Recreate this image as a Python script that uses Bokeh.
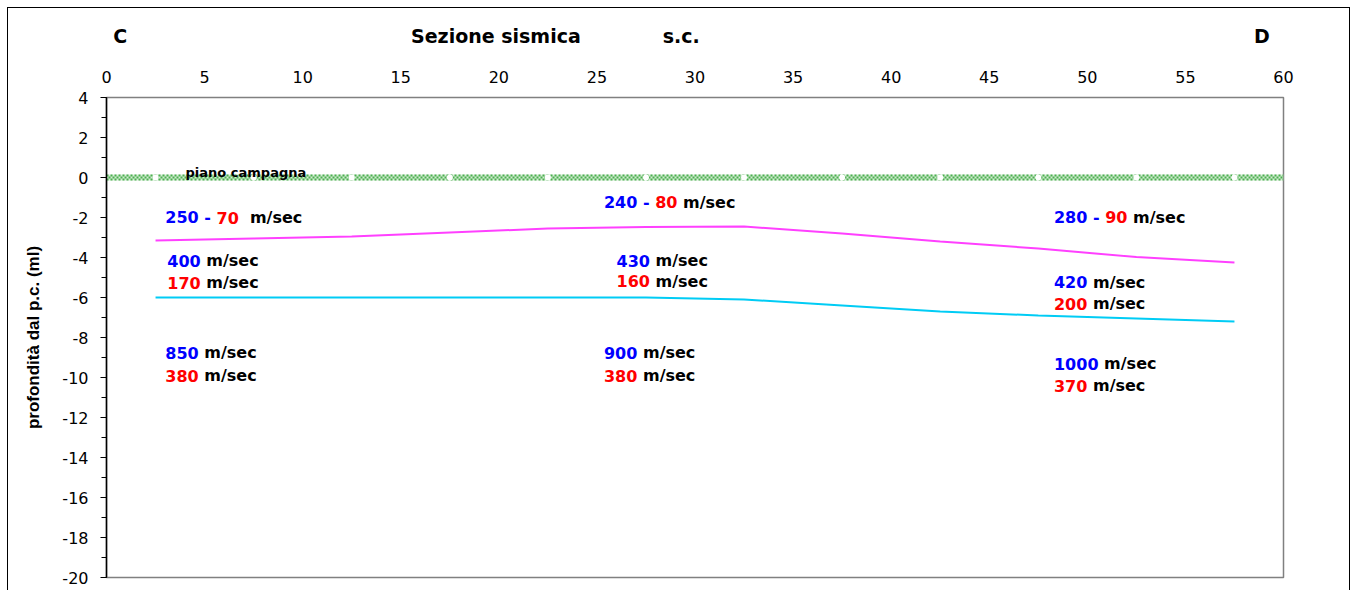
from bokeh.plotting import figure
from bokeh.models import (ColumnDataSource, Range1d, SingleIntervalTicker, FixedTicker,
                          LinearAxis, CustomJSTickFormatter)
from bokeh.embed import file_html
from bokeh.resources import INLINE
from bokeh.core.properties import value

# ---------------- data ----------------
pos_x = [2.5, 7.5, 12.5, 17.5, 22.5, 27.5, 32.5, 37.5, 42.5, 47.5, 52.5, 57.5]
interface1_y = [-3.15, -3.05, -2.95, -2.75, -2.55, -2.48, -2.45, -2.8, -3.2, -3.55, -3.98, -4.25]
interface2_y = [-6.0, -6.0, -6.0, -6.0, -6.0, -6.0, -6.1, -6.4, -6.7, -6.9, -7.05, -7.2]

ground_x = [0, 2.5, 7.5, 12.5, 17.5, 22.5, 27.5, 32.5, 37.5, 42.5, 47.5, 52.5, 57.5, 60]
ground_y = [0] * len(ground_x)

# layer 1 (surface): Vp - Vs
top_vp = ["250", "240", "280"]
top_vs = ["70", "80", "90"]
top_sep = ["  m/sec", " m/sec", " m/sec"]
top_x = [3.0, 25.36, 48.3]
top_y = [-2.0, -1.23, -1.98]

# layer 2
mid_vp = ["400", "430", "420"]
mid_vs = ["170", "160", "200"]
mid_x = [3.1, 26.0, 48.3]
mid_yp = [-4.15, -4.15, -5.23]
mid_ys = [-5.25, -5.18, -6.32]

# layer 3
bot_vp = ["850", "900", "1000"]
bot_vs = ["380", "380", "370"]
bot_x = [3.0, 25.36, 48.3]
bot_yp = [-8.75, -8.75, -9.32]
bot_ys = [-9.9, -9.9, -10.4]

header_text = ["C", "Sezione sismica", "s.c.", "D"]
header_x = [0.7, 19.85, 29.3, 58.9]

# ---------------- helpers ----------------
FS = 16
# DejaVu Sans Bold advance widths (per 1000 em)
W = {"0": 696, "1": 696, "2": 696, "3": 696, "4": 696, "5": 696, "6": 696,
     "7": 696, "8": 696, "9": 696, " ": 348, "-": 415, "m": 1042, "/": 365,
     "s": 595, "e": 678, "c": 593}


def tw(s, size=FS):
    return sum(W.get(ch, 650) for ch in s) / 1000.0 * size


BLUE, RED, BLACK = "#0000FF", "#FF0000", "#000000"

tx, ty, tt, tc, to = [], [], [], [], []


def add_parts(x, y, parts):
    off = 0.0
    for s, col in parts:
        lead = len(s) - len(s.lstrip(" "))
        tx.append(x); ty.append(y); tt.append(s.strip(" ")); tc.append(col)
        to.append(off + tw(" " * lead))
        off += tw(s)


for i in range(3):
    add_parts(top_x[i], top_y[i], [(top_vp[i] + " - ", BLUE), (top_vs[i], RED), (top_sep[i], BLACK)])
    add_parts(mid_x[i], mid_yp[i], [(mid_vp[i], BLUE), (" m/sec", BLACK)])
    add_parts(mid_x[i], mid_ys[i], [(mid_vs[i], RED), (" m/sec", BLACK)])
    add_parts(bot_x[i], bot_yp[i], [(bot_vp[i], BLUE), (" m/sec", BLACK)])
    add_parts(bot_x[i], bot_ys[i], [(bot_vs[i], RED), (" m/sec", BLACK)])

src = ColumnDataSource(dict(x=tx, y=ty, text=tt, color=tc, xoff=to))

# ---------------- figure ----------------
p = figure(width=1343, height=583, output_backend="svg", toolbar_location=None,
           x_range=Range1d(0, 60), y_range=Range1d(-20, 4),
           x_axis_location="above", y_axis_location="left",
           min_border_left=98, min_border_right=68, min_border_top=89, min_border_bottom=14)
p.styles = {"border-top": "1px solid #000", "border-left": "1px solid #000",
            "border-right": "1px solid #000", "margin-left": "7px", "margin-top": "7px"}
p.grid.visible = False
p.outline_line_color = "#808080"
p.outline_line_width = 1.5
p.background_fill_color = "white"
p.border_fill_color = "white"

plain_fmt = CustomJSTickFormatter(code="return String(tick);")

xa = p.xaxis[0]
xa.ticker = SingleIntervalTicker(interval=5)
xa.formatter = plain_fmt
xa.major_tick_line_color = None
xa.minor_tick_line_color = None
xa.axis_line_color = None
xa.major_label_text_font = "DejaVu Sans"
xa.major_label_text_font_size = "16px"
xa.major_label_text_color = "black"
xa.major_label_standoff = 9

# header row as an outer axis above
hdr = LinearAxis(ticker=FixedTicker(ticks=header_x),
                 major_label_overrides={hx: t for hx, t in zip(header_x, header_text)})
hdr.major_tick_line_color = None
hdr.minor_tick_line_color = None
hdr.axis_line_color = None
hdr.major_label_text_font = "DejaVu Sans"
hdr.major_label_text_font_style = "bold"
hdr.major_label_text_font_size = "19px"
hdr.major_label_text_color = "black"
hdr.major_label_standoff = 15
p.add_layout(hdr, "above")

ya = p.yaxis[0]
ya.ticker = SingleIntervalTicker(interval=2, num_minor_ticks=2)
ya.formatter = plain_fmt
ya.axis_line_color = "black"
ya.axis_line_width = 1.5
ya.major_tick_in = 0
ya.major_tick_out = 6
ya.minor_tick_in = 0
ya.minor_tick_out = 5
ya.major_tick_line_color = "black"
ya.minor_tick_line_color = "black"
ya.major_label_text_font = "DejaVu Sans"
ya.major_label_text_font_size = "16px"
ya.major_label_text_color = "black"
ya.major_label_standoff = 12
ya.axis_label = "profondità dal p.c. (ml)"
ya.axis_label_text_font = "Liberation Sans"
ya.axis_label_text_font_size = "17px"
ya.axis_label_text_font_style = "bold"
ya.axis_label_text_color = "black"
ya.axis_label_standoff = 16

# ground surface (checkered green band)
p.line(ground_x, ground_y, line_color="#d2ecd2", line_width=6)
for dy, off in [(0.1, 0), (0.0, 2), (-0.1, 0)]:
    p.line(ground_x, [g + dy for g in ground_y], line_color="#4caf50", line_width=2,
           line_dash="2 2", line_dash_offset=off, line_cap="butt")
p.scatter(ground_x[1:-1], ground_y[1:-1], marker="circle", size=6,
          fill_color="white", line_color=None)
p.text([4.03], [0.25], text=["piano campagna"], text_font=value("DejaVu Sans"),
       text_font_style="bold", text_font_size="13px", text_baseline="middle",
       text_align="left", text_color="black")

# interfaces
p.line(pos_x, interface1_y, line_color="#FF40FF", line_width=2)
p.line(pos_x, interface2_y, line_color="#00CCF5", line_width=2)

# velocity labels
p.text("x", "y", text="text", source=src, text_color="color", x_offset="xoff",
       text_font=value("DejaVu Sans"), text_font_style="bold",
       text_font_size=f"{FS}px", text_baseline="middle", text_align="left")

open("out.html", "w").write(file_html(p, INLINE))
